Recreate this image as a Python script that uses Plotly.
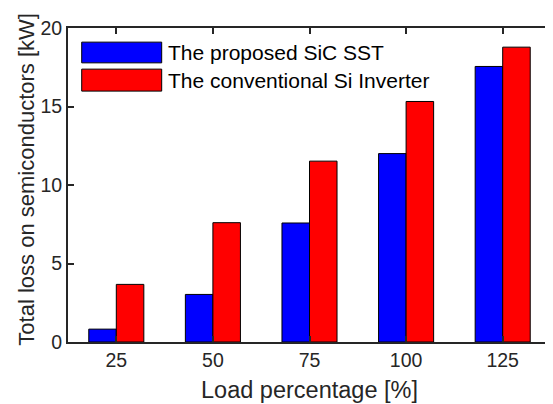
import plotly.graph_objects as go

load_pct = [25, 50, 75, 100, 125]
sic_sst = [0.82, 3.03, 7.58, 12.0, 17.55]
si_inverter = [3.67, 7.6, 11.52, 15.32, 18.78]
series_names = ["The proposed SiC SST", "The conventional Si Inverter"]
y_ticks = [0, 5, 10, 15, 20]

FONT = "Arial, Liberation Sans, sans-serif"
AX = "#262626"

fig = go.Figure()
fig.add_trace(go.Bar(x=load_pct, y=sic_sst, name=series_names[0],
                     marker=dict(color="#0000FF", line=dict(color="#000000", width=1)),
                     showlegend=False))
fig.add_trace(go.Bar(x=load_pct, y=si_inverter, name=series_names[1],
                     marker=dict(color="#FF0000", line=dict(color="#000000", width=1)),
                     showlegend=False))

# custom MATLAB-style legend
legend_items = [(series_names[0], "#0000FF", 0.955, 0.889),
                (series_names[1], "#FF0000", 0.869, 0.799)]
for name, col, y1, y0 in legend_items:
    fig.add_shape(type="rect", xref="paper", yref="paper",
                  x0=0.0284, x1=0.194, y0=y0, y1=y1,
                  fillcolor=col, line=dict(color="#000000", width=1))
    fig.add_annotation(xref="paper", yref="paper", x=0.202, y=(y0 + y1) / 2,
                       text=name, showarrow=False, xanchor="left", yanchor="middle",
                       font=dict(family=FONT, size=21, color="#000000"))

# y-axis title (placed as MATLAB does, slightly above the axis centre)
fig.add_annotation(xref="paper", yref="paper", x=-0.085, y=0.52,
                   text="Total loss on semiconductors [kW]", textangle=-90,
                   showarrow=False, xanchor="center", yanchor="middle",
                   font=dict(family=FONT, size=22, color=AX))

fig.update_layout(
    width=545, height=396,
    margin=dict(l=60, r=2, t=20, b=62),
    plot_bgcolor="white", paper_bgcolor="white",
    barmode="group", bargap=0.43, bargroupgap=0,
    font=dict(family=FONT, color=AX),
)
fig.update_xaxes(
    range=[12.5, 137.5], tickvals=load_pct, ticktext=[str(v) for v in load_pct],
    showline=True, linecolor=AX, linewidth=2, mirror="ticks",
    ticks="inside", ticklen=6, tickwidth=2, tickcolor=AX,
    showgrid=False, zeroline=False, automargin=False,
    tickfont=dict(family=FONT, size=19.5, color=AX),
    title=dict(text="Load percentage [%]", font=dict(family=FONT, size=23.5, color=AX), standoff=11),
)
fig.update_yaxes(
    range=[0, 20], tickvals=y_ticks,
    showline=True, linecolor=AX, linewidth=2, mirror="ticks",
    ticks="inside", ticklen=6, tickwidth=2, tickcolor=AX,
    showgrid=False, zeroline=False, automargin=False,
    tickfont=dict(family=FONT, size=19.5, color=AX),
)

fig.write_html("out.html")
